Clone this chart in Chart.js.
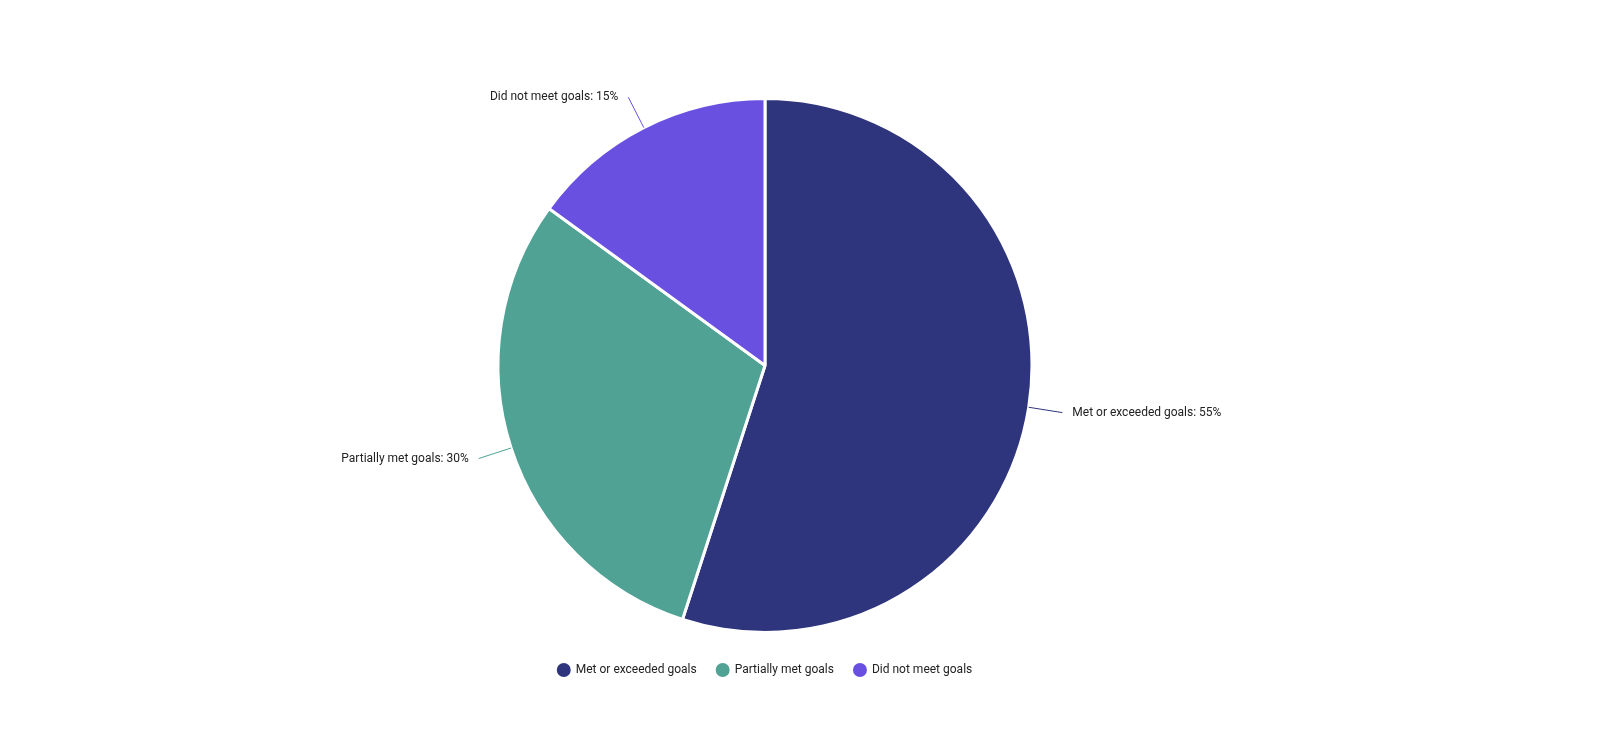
<!DOCTYPE html>
<html><head><meta charset="utf-8">
<script src="https://cdn.jsdelivr.net/npm/chart.js@4/dist/chart.umd.min.js"></script>
<style>html,body{margin:0;padding:0;background:#fff}#wrap{width:1600px;height:739px}</style>
</head><body><div id="wrap"><canvas id="c"></canvas></div>
<script>
const categories = ["Met or exceeded goals", "Partially met goals", "Did not meet goals"];
const values = [55, 30, 15];
const colors = ["#2e357c", "#4fa294", "#6950e1"];

const labelPlugin = {
  id: 'leaderLabels',
  afterDatasetsDraw(chart) {
    const ctx = chart.ctx;
    const meta = chart.getDatasetMeta(0);
    ctx.save();
    ctx.font = '12px Roboto';
    ctx.textBaseline = 'middle';
    meta.data.forEach((arc, i) => {
      const p = arc.getProps(['x','y','startAngle','endAngle','outerRadius'], true);
      const a = (p.startAngle + p.endAngle) / 2;
      const r = p.outerRadius;
      const x1 = p.x + Math.cos(a) * r, y1 = p.y + Math.sin(a) * r;
      const x2 = p.x + Math.cos(a) * (r + 34), y2 = p.y + Math.sin(a) * (r + 34);
      ctx.strokeStyle = colors[i]; ctx.lineWidth = 1;
      ctx.beginPath(); ctx.moveTo(x1, y1); ctx.lineTo(x2, y2); ctx.stroke();
      const right = Math.cos(a) >= 0;
      ctx.fillStyle = '#222';
      ctx.textAlign = right ? 'left' : 'right';
      ctx.fillText(categories[i] + ': ' + values[i] + '%', x2 + (right ? 10 : -10), y2);
    });
    ctx.restore();
  }
};

new Chart(document.getElementById('c'), {
  type: 'pie',
  data: { labels: categories, datasets: [{ data: values, backgroundColor: colors, borderColor: '#fff', borderWidth: 3 }] },
  options: {
    responsive: true, maintainAspectRatio: false, animation: false,
    radius: 267,
    layout: { padding: { top: 87, bottom: 53, left: 0, right: 70 } },
    plugins: {
      tooltip: { enabled: false },
      legend: { position: 'bottom', labels: { usePointStyle: true, pointStyle: 'circle', boxWidth: 16, boxHeight: 16, padding: 20, color: '#222', font: { family: 'Roboto', size: 12 } } }
    }
  },
  plugins: [labelPlugin]
});
</script></body></html>
